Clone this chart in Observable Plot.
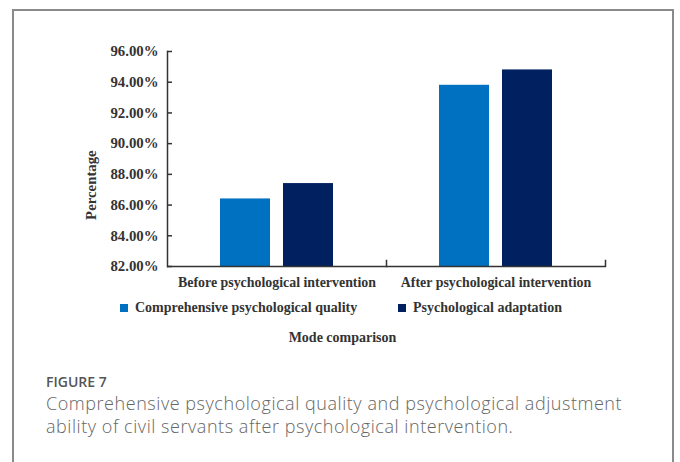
<!DOCTYPE html>
<html>
<head>
<meta charset="utf-8">
<script src="https://cdn.jsdelivr.net/npm/d3@7"></script>
<script src="https://cdn.jsdelivr.net/npm/@observablehq/plot@0.6"></script>
<style>
  body { margin: 0; background: #fff; }
  #wrap { position: relative; width: 680px; height: 462px; overflow: hidden; background: #fff; }
  #border { position: absolute; left: 12px; top: 9px; width: 662px; height: 520px; border: 2px solid #8a8a8a; box-sizing: border-box; }
  #chart { position: absolute; left: 0; top: 0; }
  .serif { font-family: "Liberation Serif", "Times New Roman", serif; font-weight: bold; color: #333; font-size: 14px; }
  #legend { position: absolute; top: 299px; left: 0; width: 680px; height: 18px; }
  .li { position: absolute; top: 0; line-height: 18px; white-space: nowrap; }
  .sw { display: inline-block; width: 8px; height: 8px; margin-right: 7px; vertical-align: 0px; }
  #xlabel { position: absolute; top: 329px; left: 0; width: 685px; text-align: center; line-height: 18px; }
  #fig { position: absolute; left: 46px; top: 372px; font-family: "Open Sans", sans-serif; font-weight: 600; font-size: 14px; color: #555; }
  #cap { position: absolute; left: 46px; top: 392px; width: 600px; font-family: "Open Sans", sans-serif; font-weight: 300; font-size: 18px; letter-spacing: 0.55px; line-height: 23px; color: #666; }
</style>
</head>
<body>
<div id="wrap">
  <div id="border"></div>
  <div id="chart"></div>
  <div id="legend" class="serif"></div>
  <div id="xlabel" class="serif"></div>
  <div id="fig"></div>
  <div id="cap"></div>
</div>
<script>
const groups = ["Before psychological intervention", "After psychological intervention"];
const series = ["Comprehensive psychological quality", "Psychological adaptation"];
const quality = [86.4, 93.8];
const adaptation = [87.4, 94.8];
const yTicks = [82, 84, 86, 88, 90, 92, 94, 96];
const colors = ["#0070C0", "#002060"];
const yLabel = "Percentage";
const xLabel = "Mode comparison";
const figLabel = "FIGURE 7";
const caption = "Comprehensive psychological quality and psychological adjustment ability of civil servants after psychological intervention.";

const data = groups.flatMap((g, i) => [
  {group: g, series: series[0], value: quality[i]},
  {group: g, series: series[1], value: adaptation[i]}
]);

const H = 300, mTop = 51, mBottom = 34;
const innerH = H - mTop - mBottom;
const axisColor = "#333";

const chart = Plot.plot({
  width: 680,
  height: H,
  marginLeft: 166,
  marginRight: 75,
  marginTop: mTop,
  marginBottom: mBottom,
  style: {fontFamily: '"Liberation Serif", "Times New Roman", serif', fontWeight: "bold", fontSize: "14.8px", color: "#333", background: "transparent"},
  fx: {domain: groups, padding: 0},
  x: {domain: series, paddingInner: 0.206, paddingOuter: 0.841, axis: null},
  y: {domain: [yTicks[0], yTicks[yTicks.length - 1]]},
  color: {domain: series, range: colors},
  marks: [
    Plot.barY(data, {fx: "group", x: "series", y1: yTicks[0], y2: "value", fill: "series"}),
    Plot.frame({anchor: "left", facetAnchor: "left", stroke: axisColor, strokeWidth: 1.5}),
    Plot.ruleY([yTicks[0]], {stroke: axisColor, strokeWidth: 1.5}),
    Plot.frame({anchor: "right", insetTop: innerH - 6, stroke: axisColor, strokeWidth: 1.5}),
    Plot.axisY({ticks: yTicks, tickFormat: d => d.toFixed(2) + "%", tickSize: -5, tickPadding: 14, label: null, stroke: axisColor, strokeWidth: 1.5, fontSize: 14.8}),
    Plot.axisFx({anchor: "bottom", tickSize: 0, tickPadding: 10.5, label: null, fontSize: 13.9}),
    Plot.text([yLabel], {text: d => d, frameAnchor: "left", y: 87.3, rotate: -90, dx: -76, textAnchor: "middle", facetAnchor: "left", fontSize: 14.8})
  ]
});
document.getElementById("chart").appendChild(chart);

// legend
const leg = document.getElementById("legend");
const legLeft = [120, 398];
series.forEach((s, i) => {
  const el = document.createElement("div");
  el.className = "li";
  el.style.left = legLeft[i] + "px";
  el.innerHTML = `<span class="sw" style="background:${colors[i]}"></span>${s}`;
  leg.appendChild(el);
});
document.getElementById("xlabel").textContent = xLabel;
document.getElementById("fig").textContent = figLabel;
document.getElementById("cap").textContent = caption;
</script>
</body>
</html>
